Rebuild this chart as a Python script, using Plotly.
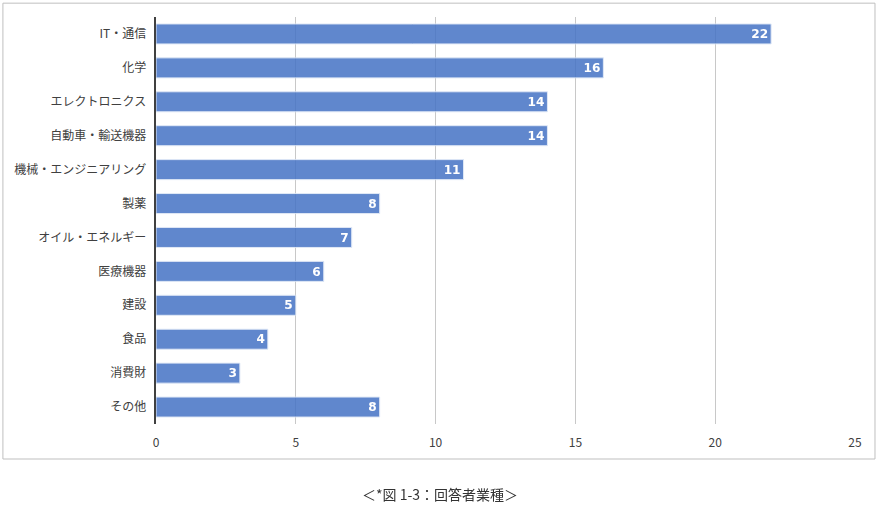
import plotly.graph_objects as go

categories = [
    "IT・通信",
    "化学",
    "エレクトロニクス",
    "自動車・輸送機器",
    "機械・エンジニアリング",
    "製薬",
    "オイル・エネルギー",
    "医療機器",
    "建設",
    "食品",
    "消費財",
    "その他",
]
counts = [22, 16, 14, 14, 11, 8, 7, 6, 5, 4, 3, 8]
x_ticks = [0, 5, 10, 15, 20, 25]
caption = "＜*図 1-3：回答者業種＞"

font_family = "Noto Sans CJK JP, Noto Sans, sans-serif"

fig = go.Figure()
fig.add_trace(
    go.Bar(
        x=counts,
        y=categories,
        orientation="h",
        marker={"color": "#4472C4", "line": {"color": "#dbe5f5", "width": 1}},
        opacity=0.85,
        text=counts,
        textposition="inside",
        insidetextanchor="end",
        textangle=0,
        textfont={"color": "white", "size": 13, "family": "DejaVu Sans, sans-serif", "weight": "bold"},
        hoverinfo="x+y",
    )
)

fig.update_layout(
    width=880,
    height=514,
    margin={"l": 156, "r": 25, "t": 17, "b": 90},
    paper_bgcolor="white",
    plot_bgcolor="white",
    showlegend=False,
    bargap=0.41,
    font={"family": font_family, "size": 12, "color": "#404040"},
    xaxis={
        "range": [0, 25],
        "tickvals": x_ticks,
        "showgrid": True,
        "gridcolor": "#c8c8c8",
        "gridwidth": 1,
        "zeroline": False,
        "showline": False,
        "ticks": "outside",
        "ticklen": 8,
        "tickcolor": "rgba(0,0,0,0)",
        "tickfont": {"size": 12, "color": "#404040"},
        "fixedrange": True,
    },
    yaxis={
        "categoryorder": "array",
        "categoryarray": categories[::-1],
        "showgrid": False,
        "showline": True,
        "linecolor": "#404040",
        "linewidth": 2,
        "ticks": "",
        "ticksuffix": "  ",
        "tickfont": {"size": 12, "color": "#404040"},
        "fixedrange": True,
    },
    shapes=[
        {
            "type": "rect",
            "xref": "paper",
            "yref": "paper",
            "x0": -0.219,
            "x1": 1.0286,
            "y0": -0.086,
            "y1": 1.034,
            "line": {"color": "#bfbfbf", "width": 1},
            "fillcolor": "rgba(0,0,0,0)",
            "layer": "below",
        }
    ],
    annotations=[
        {
            "text": caption,
            "xref": "paper",
            "yref": "paper",
            "x": (440 - 156) / 699,
            "y": -0.172,
            "showarrow": False,
            "xanchor": "center",
            "yanchor": "middle",
            "font": {"size": 14, "color": "#333333"},
        }
    ],
)

# drop the default page margin so the figure sits at the window corner
fig.write_html(
    "out.html",
    config={"displayModeBar": False},
    post_script="document.body.style.margin = '0';",
)
